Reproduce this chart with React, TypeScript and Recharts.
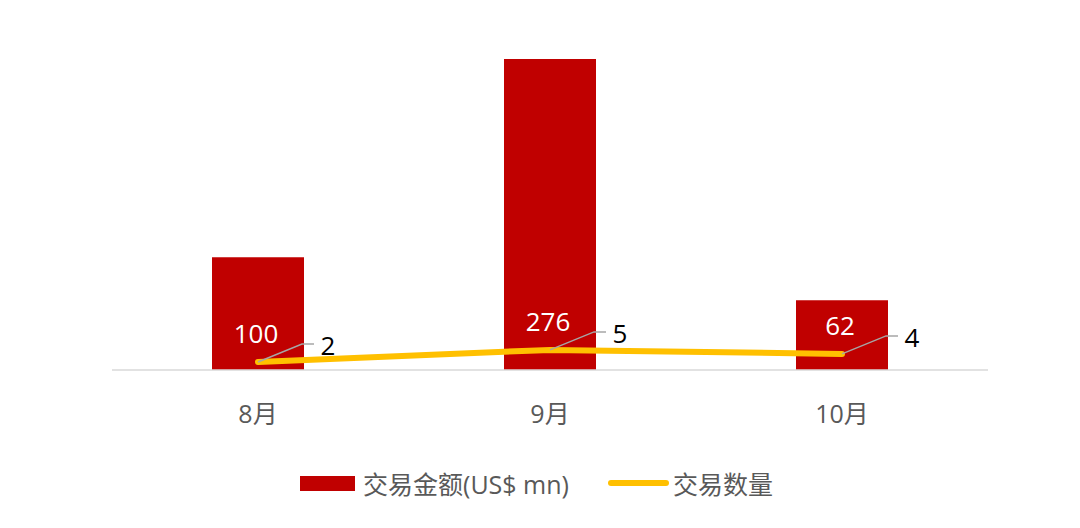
import { ComposedChart, Bar, Line, XAxis, YAxis, Legend, LabelList } from "recharts";

const months = ["8月", "9月", "10月"];
const amounts = [100, 276, 62];
const counts = [2, 5, 4];

const amountName = "交易金额(US$ mn)";
const countName = "交易数量";

const data = months.map((m, i) => ({ month: m, amount: amounts[i], count: counts[i] }));

const FONT = "'Open Sans', 'Noto Sans CJK SC', sans-serif";
const RED = "#C00000";
const GOLD = "#FFC000";

// draws the count label with its leader line, plus the amount label above the point
const PointLabels = (props: any) => {
	const { x, y, value, index } = props;
	if (x == null || y == null) return null;
	return (
		<g>
			<polyline
				points={`${x},${y} ${x + 44},${y - 18} ${x + 56},${y - 18}`}
				fill="none"
				stroke="#A6A6A6"
				strokeWidth={1.5}
			/>
			<text x={x + 70} y={y - 17} textAnchor="middle" dominantBaseline="central" fontSize={26} fill="#000" fontFamily={FONT}>
				{value}
			</text>
			<text x={x - 2} y={y - 29} textAnchor="middle" dominantBaseline="central" fontSize={26} fill="#fff" fontFamily={FONT}>
				{amounts[index]}
			</text>
		</g>
	);
};

const renderLegend = () => (
	<div style={{ display: "flex", justifyContent: "center", alignItems: "center", fontFamily: FONT, fontSize: 25, color: "#595959" }}>
		<span style={{ display: "inline-block", width: 55, height: 15, background: RED, marginRight: 8 }} />
		<span>{amountName}</span>
		<span style={{ display: "inline-block", width: 61, height: 6, borderRadius: 3, background: GOLD, marginLeft: 39, marginRight: 4 }} />
		<span>{countName}</span>
	</div>
);

export default function App() {
	return (
		<div style={{ width: 1080, height: 528, background: "#fff" }}>
			<style>{`body{margin:0}`}</style>
			<ComposedChart width={1080} height={528} data={data} margin={{ top: 32, right: 92, bottom: 0, left: 112 }}>
				<XAxis
					dataKey="month"
					height={158}
					axisLine={{ stroke: "#D9D9D9", strokeWidth: 1.5 }}
					tickLine={false}
					tickMargin={29}
					tick={{ fill: "#595959", fontSize: 25, fontFamily: FONT }}
				/>
				<YAxis yAxisId="left" hide domain={[0, 300]} />
				<YAxis yAxisId="right" orientation="right" hide domain={[0, 84]} />
				<Legend
					layout="horizontal"
					verticalAlign="middle"
					align="center"
					content={renderLegend}
					wrapperStyle={{ top: 465, left: 0, width: 1073 }}
				/>
				<Bar yAxisId="left" dataKey="amount" name={amountName} fill={RED} barSize={92} isAnimationActive={false} />
				<Line
					yAxisId="right"
					dataKey="count"
					name={countName}
					stroke={GOLD}
					strokeWidth={6}
					strokeLinecap="round"
					dot={false}
					activeDot={false}
					type="linear"
					isAnimationActive={false}
				>
					<LabelList dataKey="count" content={PointLabels} />
				</Line>
			</ComposedChart>
		</div>
	);
}
